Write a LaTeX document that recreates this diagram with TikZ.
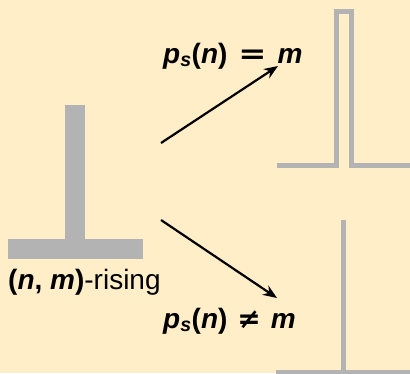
\documentclass[tikz,border=0pt]{standalone}
\usepackage{fontspec}
\usepackage{graphicx}
\setmainfont{Liberation Sans}
\newfontfamily\symfont{DejaVu Sans}
\usetikzlibrary{arrows.meta}
\definecolor{bg}{RGB}{255,238,199}
\definecolor{graybar}{RGB}{179,179,179}
\begin{document}
\begin{tikzpicture}[x=1pt,y=-1pt,
  sig/.style={draw=graybar,line width=5pt,miter limit=10},
  arr/.style={line width=2.2pt,-{Stealth[length=14pt,width=11pt]}},
  lab/.style={font=\fontsize{28}{33}\selectfont,inner sep=0pt,anchor=base west}]
\fill[bg] (0,0) rectangle (410,373);
\useasboundingbox (0,0) rectangle (410,373);
% T-shaped step
\fill[graybar] (65,105) rectangle (85,240);
\fill[graybar] (8,239) rectangle (143,259);
\node[lab] (rising) at (8,289) {\textbf{(\textit{n}, \textit{m})}-rising};
% upper pulse
\draw[sig] (277,165) -- (336.5,165) -- (336.5,11.5) -- (351.5,11.5) -- (351.5,165) -- (410,165);
% lower step
\draw[sig] (343.5,220) -- (343.5,375);
\draw[sig] (276,372.5) -- (410,372.5);
% arrows
\coordinate (a1s) at (161,143);
\coordinate (a1e) at (278,66);
\coordinate (a2s) at (161,220);
\coordinate (a2e) at (277,298);
\draw[arr] (a1s) -- (a1e);
\draw[arr] (a2s) -- (a2e);
% labels
\node[lab] (eq) at (163,63) {\bfseries\itshape p\textsubscript{s}\upshape(\itshape n\upshape)\hspace{11pt}\scalebox{1.2}[1]{\symfont\bfseries =}\hspace{11pt}\itshape m};
\node[lab] (neq) at (163,328) {\bfseries\itshape p\textsubscript{s}\upshape(\itshape n\upshape)\hspace{10pt}{\symfont\bfseries ≠}\hspace{10pt}\itshape m};
\end{tikzpicture}
\end{document}
